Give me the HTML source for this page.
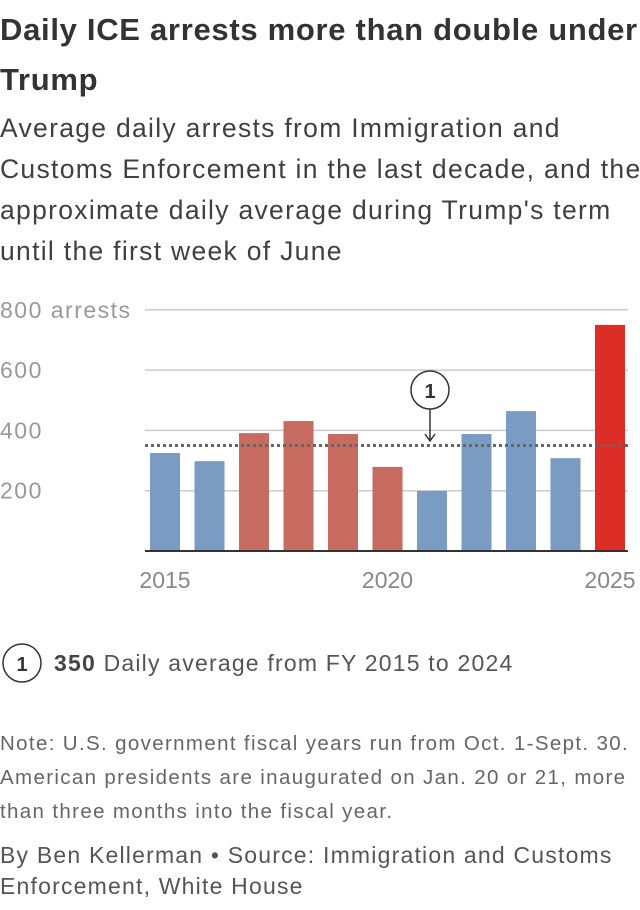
<!DOCTYPE html>
<html><head><meta charset="utf-8"><style>
body{margin:0;width:640px;height:904px;background:#fff;font-family:"Liberation Sans",sans-serif;color:#404040;overflow:hidden;position:relative}
.t{position:absolute;left:0;margin:0;white-space:nowrap}
</style></head><body>
<h1 class="t" style="top:5px;font-size:31px;line-height:50px;font-weight:bold;color:#333;letter-spacing:0.7px">Daily ICE arrests more than double under<br>Trump</h1>
<p class="t" style="top:108px;font-size:26.5px;line-height:41px;color:#404040;letter-spacing:1.3px">Average daily arrests from Immigration and<br>Customs Enforcement in the last decade, and the<br>approximate daily average during Trump's term<br>until the first week of June</p>
<svg id="chart" width="640" height="620" style="position:absolute;left:0;top:290px" viewBox="0 290 640 620"></svg>
<p class="t" style="top:727px;font-size:20.5px;line-height:34px;color:#666;letter-spacing:1.35px">Note: U.S. government fiscal years run from Oct. 1-Sept. 30.<br>American presidents are inaugurated on Jan. 20 or 21, more<br>than three months into the fiscal year.</p>
<p class="t" style="top:840px;font-size:23px;line-height:31px;color:#555;letter-spacing:1.2px">By Ben Kellerman • Source: Immigration and Customs<br>Enforcement, White House</p>
<script>
const years=[2015,2016,2017,2018,2019,2020,2021,2022,2023,2024,2025];
const values=[325,298,391,431,388,279,199,388,464,308,750];
const groups=["obama","obama","trump","trump","trump","trump","biden","biden","biden","biden","trump2"];
const yTicks=[200,400,600,800];
const xTicks=[2015,2020,2025];
const avgValue=350;
const colors={obama:"#7a9cc3",biden:"#7a9cc3",trump:"#c76a5f",trump2:"#dc2e26"};
const svg=document.getElementById('chart');const NS="http://www.w3.org/2000/svg";
const y=v=>551-v*0.3015;const x=yr=>165+(yr-2015)*44.5;
function mk(t,a,p){const e=document.createElementNS(NS,t);for(const k in a)e.setAttribute(k,a[k]);(p||svg).appendChild(e);return e;}
yTicks.forEach(v=>{const g=mk('line',{x1:145,x2:628,y1:y(v),y2:y(v),stroke:'#ccc','stroke-width':1.5});


const t=mk('text',{x:0,y:y(v)+8,'font-size':23,fill:'#999','font-family':'Liberation Sans','letter-spacing':1.5});t.textContent=v+(v===800?' arrests':'');

});
years.forEach((yr,i)=>{const r=mk('rect',{x:x(yr)-15,y:y(values[i]),width:30,height:551-y(values[i]),fill:colors[groups[i]]});

});
const ax=mk('line',{x1:145,x2:628,y1:551,y2:551,stroke:'#333','stroke-width':2});


xTicks.forEach(yr=>{const t=mk('text',{x:x(yr),y:588,'font-size':23,fill:'#888','text-anchor':'middle','font-family':'Liberation Sans'});t.textContent=yr;

});
const av=mk('line',{x1:145,x2:628,y1:y(avgValue),y2:y(avgValue),stroke:'#666','stroke-width':3,'stroke-dasharray':'3,3'});


const c=mk('circle',{cx:430,cy:390,r:19,fill:'#fff',stroke:'#333','stroke-width':1.5});


const ct=mk('text',{x:430,y:398,'font-size':20,'font-weight':'bold','text-anchor':'middle',fill:'#333','font-family':'Liberation Sans'});ct.textContent='1';


const ar=mk('path',{d:'M430 409 L430 440 M425 434 L430 441 L435 434',stroke:'#333',fill:'none','stroke-width':1.5});


const lc=mk('circle',{cx:22,cy:663,r:19,fill:'#fff',stroke:'#333','stroke-width':1.5});


const lt=mk('text',{x:22,y:671,'font-size':20,'font-weight':'bold','text-anchor':'middle',fill:'#333','font-family':'Liberation Sans'});lt.textContent='1';


const ll=mk('text',{x:54,y:671,'font-size':23,fill:'#555','font-family':'Liberation Sans','letter-spacing':1.2});
ll.innerHTML='<tspan font-weight="bold" fill="#444">'+avgValue+'</tspan> Daily average from FY 2015 to 2024';


</script>
</body></html>
